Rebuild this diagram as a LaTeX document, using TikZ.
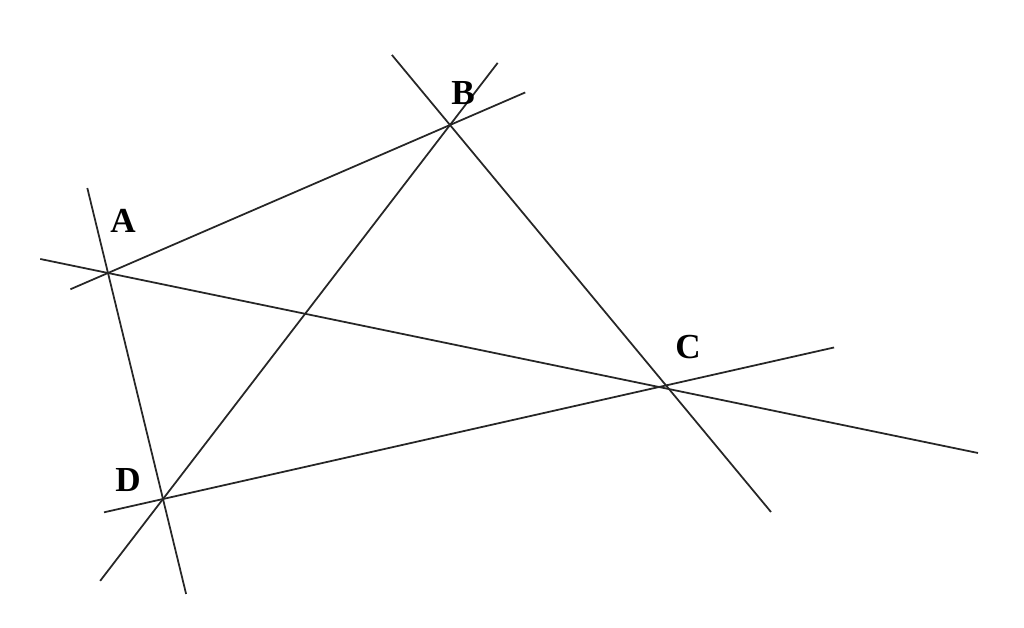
\documentclass[tikz,border=0pt]{standalone}
\usepackage{fontspec}
\setmainfont{Liberation Serif}
\usepackage{tikz}
\usetikzlibrary{calc}
\tikzset{
    ray/.style={line width=1pt,color=black!85},
    vlabel/.style={font=\fontsize{20}{24}\selectfont\bfseries,inner sep=0pt}
}

\begin{document}
\begin{tikzpicture}[x=0.02cm,y=-0.02cm]
    \useasboundingbox (0,0) rectangle (1024,628);
    \coordinate (A) at (108,273);
    \coordinate (B) at (450,125);
    \coordinate (C) at (659,387);
    \coordinate (D) at (163,499);
    \coordinate (bc) at (771,512); %lower end of BC
    \draw[ray] ($(A)!-0.11!(B)$)--($(A)!1.22!(B)$); %AB
    \draw[ray] ($(A)!-0.376!(D)$)--($(A)!1.42!(D)$); %AD
    \draw[ray] ($(A)!-0.123!(C)$)--($(A)!1.579!(C)$); %AC
    \draw[ray] ($(B)!-0.166!(D)$)--($(B)!1.219!(D)$); %BD
    \draw[ray] ($(B)!-0.181!(bc)$)--(bc); %BC
    \draw[ray] ($(D)!-0.119!(C)$)--($(D)!1.353!(C)$); %DC
    \node[vlabel] (lA) at (123,221) {A};
    \node[vlabel] (lB) at (463,93) {B};
    \node[vlabel] (lC) at (688,347) {C};
    \node[vlabel] (lD) at (128,480) {D};
\end{tikzpicture}
\end{document}
